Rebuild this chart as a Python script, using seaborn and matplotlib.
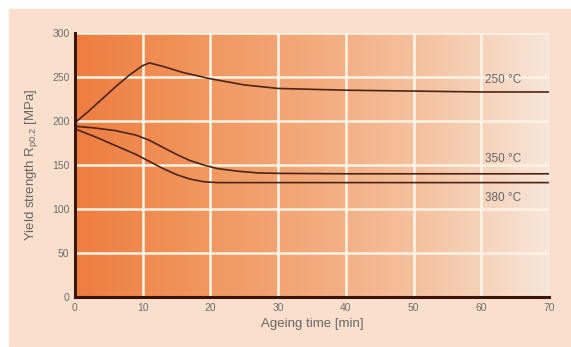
import numpy as np
import pandas as pd
import matplotlib
matplotlib.use("Agg")
import matplotlib.pyplot as plt
from matplotlib.colors import LinearSegmentedColormap
import seaborn as sns

# Ageing curves: yield strength vs ageing time at three temperatures
t_250 = [0, 2, 4, 6, 8, 10, 11, 13, 16, 20, 25, 30, 40, 50, 60, 70]
y_250 = [198, 211, 225, 239, 252, 263, 266, 262, 255, 248, 241, 237, 235, 234, 233, 233]

t_350 = [0, 3, 6, 9, 11, 13, 15, 17, 19, 21, 24, 27, 30, 40, 50, 60, 70]
y_350 = [194, 192, 189, 184, 178, 170, 162, 155, 150, 146, 143, 141, 140.5, 140, 140, 140, 140]

t_380 = [0, 3, 6, 9, 11, 13, 15, 17, 19, 21, 25, 30, 40, 50, 60, 70]
y_380 = [191, 182, 172, 162, 154, 146, 139, 134, 131, 130, 130, 130, 130, 130, 130, 130]

series_labels = ["250 °C", "350 °C", "380 °C"]
label_pos = [(60.5, 247), (60.5, 157), (60.5, 113)]

x_ticks = [0, 10, 20, 30, 40, 50, 60, 70]
y_ticks = [0, 50, 100, 150, 200, 250, 300]

df = pd.concat([
    pd.DataFrame({"time": t_250, "strength": y_250, "temp": series_labels[0]}),
    pd.DataFrame({"time": t_350, "strength": y_350, "temp": series_labels[1]}),
    pd.DataFrame({"time": t_380, "strength": y_380, "temp": series_labels[2]}),
])

sns.set_theme(style="white")
plt.rcParams["font.family"] = ["Liberation Sans", "DejaVu Sans"]

fig = plt.figure(figsize=(5.71, 3.47), dpi=100)
fig.patch.set_facecolor("white")
# peach frame behind the chart
frame = plt.Rectangle((9 / 571, 0.004), 1, 1 - 9 / 347 - 0.004,
                      transform=fig.transFigure, color="#fbdfcd", zorder=-5)
fig.add_artist(frame)

ax = fig.add_axes([75 / 571, 1 - 297 / 347, (549 - 75) / 571, (297 - 33) / 347])
ax.set_zorder(2)
ax.set_xlim(0, 70)
ax.set_ylim(0, 300)

# horizontal orange gradient in the plot area
cmap = LinearSegmentedColormap.from_list(
    "bg", ["#ee7d40", "#f0955c", "#f3aa7c", "#f5c4a3", "#f8e6da"])
grad = np.linspace(0, 1, 256).reshape(1, -1)
ax.imshow(grad, extent=[0, 70, 0, 300], aspect="auto", cmap=cmap, zorder=0)

for xv in x_ticks[1:]:
    ax.axvline(xv, color="#fff6ea", lw=1.8, zorder=1)
for yv in y_ticks[1:]:
    ax.axhline(yv, color="#fff3e4", lw=1.8, zorder=1)

sns.lineplot(data=df, x="time", y="strength", units="temp", estimator=None,
             color="#4d2414", lw=1.2, ax=ax, zorder=3, legend=False)

for lab, (xl, yl) in zip(series_labels, label_pos):
    ax.text(xl, yl, lab, fontsize=8.5, color="#666666", va="center", ha="left", zorder=4)

for side in ["top", "right"]:
    ax.spines[side].set_visible(False)
for side in ["left", "bottom"]:
    ax.spines[side].set_color("#3a1508")
    ax.spines[side].set_linewidth(2.2)
    ax.spines[side].set_zorder(5)

ax.set_xticks(x_ticks)
ax.set_yticks(y_ticks)
ax.tick_params(axis="both", direction="in", length=3.5, width=2, color="#3a1508",
               labelsize=7.5, labelcolor="#6e6e6e", pad=4)
ax.set_xlabel("Ageing time [min]", fontsize=9.5, color="#666666", labelpad=4)
ax.set_ylabel("Yield strength R$_{\\mathregular{p0.2}}$ [MPa]", fontsize=9.5,
              color="#666666", labelpad=9)

fig.savefig("out.png", dpi=100)
